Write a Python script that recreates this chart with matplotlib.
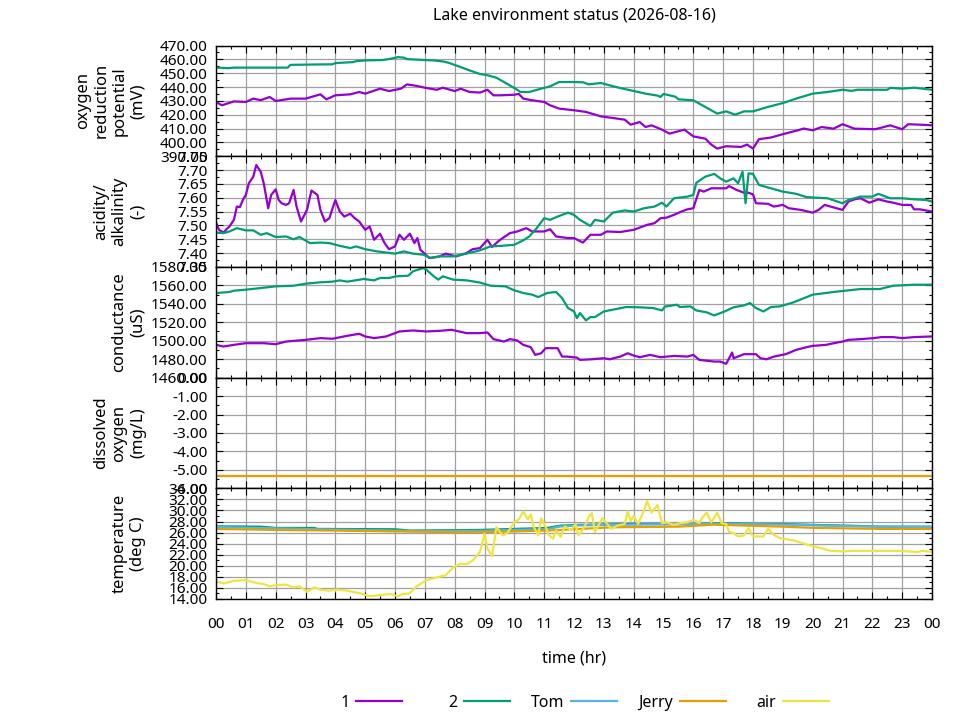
import matplotlib
matplotlib.use('Agg')
import matplotlib.pyplot as plt
from matplotlib.ticker import MultipleLocator, FormatStrFormatter, FixedLocator
import numpy as np

plt.rcParams['font.family'] = ['Noto Sans', 'DejaVu Sans']
plt.rcParams['font.size'] = 11

# readings: (hour of day, value)
orp_1 = [(0, 429.2), (0.2, 426.8), (0.6, 429.6), (1.0, 429.2), (1.25, 431.6), (1.5, 430.5), (1.8, 432.8),
         (2.0, 429.9), (2.5, 431.6), (3.0, 431.6), (3.5, 434.7), (3.7, 431.1), (4.0, 434.0), (4.5, 434.7),
         (4.8, 436.4), (5.0, 435.2), (5.5, 438.8), (5.8, 437.1), (6.2, 438.8), (6.4, 441.9), (6.7, 440.9),
         (7.0, 439.5), (7.4, 438.0), (7.6, 439.5), (8.0, 437.1), (8.2, 438.8), (8.5, 436.4), (8.85, 436.0),
         (9.1, 438.0), (9.3, 434.0), (9.5, 434.0), (10.0, 434.4), (10.15, 435.0), (10.3, 431.6), (10.6, 430.4),
         (11.0, 429.2), (11.2, 426.8), (11.5, 424.4), (12.0, 423.2), (12.4, 422.0), (12.9, 418.8), (13.3, 417.6),
         (13.7, 416.4), (13.9, 412.8), (14.2, 414.7), (14.4, 411.1), (14.6, 412.3), (14.95, 409.2), (15.2, 406.3),
         (15.7, 409.2), (16.0, 404.3), (16.4, 402.7), (16.6, 398.4), (16.8, 395.5), (17.1, 397.2), (17.6, 396.7),
         (17.8, 398.4), (18.0, 395.5), (18.2, 402.3), (18.6, 403.5), (19.0, 405.9), (19.5, 408.7), (19.7, 410.0),
         (20.0, 408.7), (20.3, 411.1), (20.7, 409.9), (21.0, 413.1), (21.4, 409.9), (22.1, 409.5), (22.6, 412.3),
         (23.0, 409.5), (23.2, 413.1), (23.6, 412.8), (24.0, 412.3)]
orp_2 = [(0, 454.1), (0.4, 453.6), (0.6, 454.0), (1.2, 454.0), (2.4, 454.0), (2.5, 456.0), (3.4, 456.3),
         (3.9, 456.4), (4.0, 457.3), (4.6, 458.0), (4.7, 458.7), (5.0, 459.2), (5.6, 459.5), (5.9, 460.6),
         (6.1, 461.6), (6.3, 461.2), (6.4, 460.2), (6.8, 459.7), (7.3, 459.2), (7.6, 458.5), (7.8, 457.5),
         (8.2, 454.4), (8.5, 452.0), (8.85, 449.4), (9.1, 448.5), (9.4, 446.7), (9.75, 442.4), (10.1, 438.0),
         (10.2, 436.4), (10.5, 436.4), (10.9, 438.8), (11.2, 440.5), (11.5, 443.6), (12.0, 443.6), (12.3, 443.4),
         (12.5, 441.9), (12.9, 442.9), (13.2, 441.2), (13.5, 439.5), (13.9, 437.6), (14.4, 435.2), (14.8, 433.8),
         (14.9, 432.8), (15.0, 435.0), (15.4, 433.0), (15.5, 431.1), (16.0, 430.4), (16.4, 425.6), (16.8, 420.8),
         (17.1, 422.4), (17.4, 420.0), (17.7, 422.4), (18.0, 422.4), (18.5, 425.6), (19.0, 428.4), (19.5, 432.0),
         (20.0, 435.2), (20.5, 436.4), (21.0, 438.0), (21.3, 437.2), (21.5, 438.0), (22.5, 438.0), (22.6, 439.4),
         (23.0, 438.8), (23.4, 439.5), (24.0, 438.0)]

ph_1 = [(0, 7.510), (0.1, 7.484), (0.25, 7.474), (0.35, 7.486), (0.45, 7.496), (0.6, 7.520), (0.7, 7.568),
        (0.8, 7.566), (0.9, 7.592), (1.0, 7.610), (1.1, 7.652), (1.25, 7.676), (1.35, 7.718), (1.5, 7.694),
        (1.6, 7.652), (1.75, 7.562), (1.85, 7.610), (2.0, 7.630), (2.1, 7.592), (2.2, 7.580), (2.35, 7.574),
        (2.45, 7.580), (2.6, 7.628), (2.7, 7.568), (2.85, 7.514), (3.05, 7.556), (3.2, 7.626), (3.4, 7.610),
        (3.5, 7.556), (3.65, 7.514), (3.8, 7.526), (4.0, 7.592), (4.15, 7.550), (4.3, 7.532), (4.5, 7.542),
        (4.65, 7.526), (4.8, 7.514), (5.0, 7.484), (5.15, 7.496), (5.3, 7.448), (5.5, 7.470), (5.65, 7.436),
        (5.8, 7.414), (6.0, 7.424), (6.15, 7.466), (6.3, 7.448), (6.5, 7.470), (6.65, 7.436), (6.75, 7.454),
        (6.85, 7.412), (7.15, 7.382), (7.5, 7.388), (7.7, 7.398), (8.05, 7.388), (8.4, 7.400), (8.6, 7.414),
        (8.85, 7.418), (9.1, 7.448), (9.25, 7.422), (9.5, 7.446), (9.85, 7.472), (10.1, 7.478), (10.4, 7.490),
        (10.6, 7.478), (11.0, 7.478), (11.2, 7.486), (11.4, 7.460), (11.8, 7.454), (12.0, 7.454), (12.3, 7.438),
        (12.55, 7.466), (12.9, 7.466), (13.1, 7.478), (13.55, 7.476), (14.0, 7.484), (14.45, 7.502), (14.7, 7.508),
        (14.9, 7.526), (15.1, 7.528), (15.35, 7.538), (15.6, 7.550), (15.8, 7.558), (16.0, 7.562), (16.2, 7.628),
        (16.35, 7.622), (16.6, 7.634), (16.9, 7.634), (17.1, 7.634), (17.2, 7.642), (17.45, 7.628), (17.7, 7.618),
        (17.85, 7.618), (18.0, 7.612), (18.1, 7.580), (18.5, 7.578), (18.7, 7.568), (19.0, 7.574), (19.2, 7.562),
        (19.6, 7.556), (20.0, 7.546), (20.2, 7.556), (20.4, 7.574), (20.6, 7.568), (21.0, 7.556), (21.2, 7.586),
        (21.4, 7.594), (21.6, 7.598), (21.9, 7.582), (22.2, 7.594), (22.5, 7.586), (22.7, 7.582), (23.0, 7.574),
        (23.3, 7.574), (23.4, 7.558), (23.6, 7.558), (24.0, 7.550)]
ph_2 = [(0, 7.474), (0.25, 7.472), (0.45, 7.478), (0.7, 7.490), (1.0, 7.482), (1.25, 7.482), (1.5, 7.466),
        (1.7, 7.472), (2.0, 7.458), (2.35, 7.460), (2.6, 7.450), (2.8, 7.458), (3.15, 7.436), (3.5, 7.438),
        (3.8, 7.436), (4.15, 7.426), (4.5, 7.418), (4.7, 7.424), (5.0, 7.414), (5.4, 7.406), (5.7, 7.402),
        (6.0, 7.398), (6.3, 7.406), (6.6, 7.398), (6.95, 7.394), (7.2, 7.382), (7.5, 7.388), (7.95, 7.388),
        (8.4, 7.398), (8.85, 7.410), (9.2, 7.424), (9.55, 7.426), (10.0, 7.430), (10.3, 7.446), (10.5, 7.460),
        (10.75, 7.490), (11.0, 7.526), (11.2, 7.520), (11.45, 7.532), (11.8, 7.546), (12.0, 7.538), (12.2, 7.520),
        (12.55, 7.498), (12.7, 7.520), (13.0, 7.514), (13.3, 7.546), (13.7, 7.554), (14.0, 7.550), (14.35, 7.562),
        (14.7, 7.568), (14.95, 7.582), (15.1, 7.568), (15.35, 7.598), (15.8, 7.604), (16.0, 7.610), (16.1, 7.654),
        (16.4, 7.676), (16.7, 7.686), (16.9, 7.670), (17.1, 7.658), (17.35, 7.670), (17.5, 7.652), (17.65, 7.694),
        (17.75, 7.580), (17.85, 7.688), (18.0, 7.686), (18.2, 7.646), (18.6, 7.634), (19.0, 7.622), (19.45, 7.614),
        (19.8, 7.602), (20.5, 7.598), (21.0, 7.580), (21.2, 7.592), (21.6, 7.604), (22.0, 7.604), (22.2, 7.614),
        (22.6, 7.598), (23.0, 7.598), (23.4, 7.594), (23.8, 7.592), (24.0, 7.586)]

cond_1 = [(0, 1495.5), (0.25, 1493.7), (0.6, 1495.5), (1.0, 1497.3), (1.6, 1497.3), (2.0, 1496.2), (2.35, 1499.1),
          (3.0, 1500.9), (3.5, 1502.8), (3.9, 1502.1), (4.4, 1505.3), (4.8, 1507.5), (5.0, 1504.6), (5.3, 1502.8),
          (5.7, 1504.6), (6.15, 1510.0), (6.6, 1511.1), (7.05, 1510.0), (7.5, 1510.7), (7.9, 1511.8), (8.4, 1508.2),
          (8.85, 1508.2), (9.1, 1508.9), (9.3, 1501.7), (9.65, 1499.1), (9.85, 1501.7), (10.1, 1500.2), (10.3, 1495.5),
          (10.55, 1493.0), (10.7, 1484.6), (10.9, 1486.4), (11.05, 1491.9), (11.45, 1491.9), (11.6, 1482.8),
          (11.75, 1482.8), (12.1, 1481.7), (12.2, 1479.2), (12.6, 1479.9), (13.0, 1481.0), (13.2, 1479.9),
          (13.55, 1482.8), (13.8, 1486.4), (14.0, 1483.9), (14.2, 1482.1), (14.55, 1484.6), (14.9, 1482.1),
          (15.35, 1483.5), (15.8, 1482.8), (16.0, 1484.6), (16.2, 1479.2), (16.7, 1477.4), (16.9, 1477.4),
          (17.1, 1474.9), (17.3, 1487.2), (17.35, 1481.0), (17.7, 1485.4), (18.1, 1485.4), (18.25, 1481.0),
          (18.45, 1479.9), (18.7, 1482.8), (19.1, 1485.4), (19.45, 1490.1), (19.8, 1493.0), (20.0, 1494.4),
          (20.45, 1495.5), (20.6, 1496.6), (21.0, 1499.1), (21.2, 1500.9), (21.6, 1501.7), (22.05, 1502.8),
          (22.3, 1503.9), (22.7, 1503.9), (23.0, 1502.8), (23.4, 1503.9), (24.0, 1504.6)]
cond_2 = [(0, 1551.7), (0.45, 1552.8), (0.6, 1554.2), (1.0, 1555.3), (1.5, 1557.1), (2.0, 1558.9), (2.6, 1559.6),
          (3.0, 1561.8), (3.5, 1563.3), (3.9, 1564.0), (4.15, 1565.4), (4.4, 1564.0), (4.95, 1566.9), (5.3, 1565.4),
          (5.5, 1568.0), (5.8, 1568.0), (6.05, 1569.8), (6.45, 1570.5), (6.6, 1575.2), (6.95, 1578.8), (7.05, 1577.0),
          (7.3, 1569.8), (7.45, 1566.2), (7.6, 1569.8), (7.95, 1566.2), (8.4, 1565.4), (8.85, 1563.0), (9.2, 1559.6),
          (9.7, 1558.9), (10.0, 1554.6), (10.3, 1551.7), (10.6, 1549.9), (10.8, 1547.3), (11.1, 1551.7),
          (11.4, 1552.8), (11.6, 1546.2), (11.8, 1535.4), (12.0, 1531.7), (12.1, 1524.5), (12.2, 1530.0),
          (12.4, 1522.0), (12.55, 1525.6), (12.7, 1525.6), (13.0, 1531.7), (13.3, 1533.6), (13.75, 1536.5),
          (14.2, 1536.2), (14.65, 1535.4), (14.95, 1532.8), (15.05, 1537.0), (15.45, 1539.0), (15.55, 1536.5),
          (15.9, 1537.2), (16.1, 1532.8), (16.45, 1530.7), (16.7, 1527.4), (17.05, 1531.7), (17.35, 1536.2),
          (17.7, 1538.3), (17.9, 1540.8), (18.1, 1535.4), (18.35, 1531.7), (18.6, 1536.5), (18.9, 1537.2),
          (19.35, 1541.5), (19.8, 1547.3), (20.0, 1549.9), (20.7, 1552.8), (21.1, 1554.2), (21.6, 1556.0),
          (22.25, 1556.0), (22.7, 1559.6), (23.4, 1560.7), (24.0, 1560.7)]

do_tom = [(0, 0.0), (6, 0.0), (12, 0.0), (18, 0.0), (24, 0.0)]
do_jerry = [(0, -5.36), (6, -5.36), (12, -5.36), (18, -5.36), (24, -5.36)]

temp_2 = [(0, 27.13), (1.5, 27.07), (2.0, 26.84), (3.3, 26.84), (3.4, 26.66), (6.0, 26.6), (6.5, 26.36),
          (8.85, 26.48), (10.0, 26.66), (11.1, 26.84), (11.55, 27.25), (12.2, 27.4), (14.0, 27.55), (16.0, 27.55),
          (17.0, 27.7), (18.1, 27.55), (19.0, 27.55), (20.1, 27.37), (21.2, 27.25), (22.3, 27.07), (24.0, 27.07)]
temp_tom = [(0, 27.0), (3.4, 26.6), (6.5, 26.3), (8.85, 26.3), (10.0, 26.5), (11.1, 26.6), (11.55, 27.1),
            (12.2, 27.3), (14.0, 27.45), (17.0, 27.6), (19.0, 27.45), (21.2, 27.15), (24.0, 27.0)]
temp_jerry = [(0, 26.66), (2.0, 26.48), (4.0, 26.36), (6.5, 26.18), (8.0, 26.06), (8.85, 26.06), (11.1, 26.36),
              (13.3, 26.96), (15.5, 27.07), (16.7, 27.43), (17.8, 27.25), (19.0, 27.07), (20.1, 26.84),
              (22.3, 26.66), (24.0, 26.66)]
temp_air = [(0, 17.22), (0.25, 16.8), (0.6, 17.28), (1.0, 17.4), (1.35, 16.9), (1.6, 16.7), (1.8, 16.3),
            (2.0, 16.5), (2.35, 16.6), (2.6, 16.1), (2.8, 16.3), (3.05, 15.3), (3.3, 16.1), (3.5, 15.7),
            (3.8, 15.5), (4.05, 15.7), (4.4, 15.5), (4.85, 15.0), (5.15, 14.5), (5.5, 14.7), (5.85, 14.9),
            (6.1, 14.5), (6.25, 14.9), (6.5, 15.0), (6.7, 16.2), (7.05, 17.4), (7.4, 17.9), (7.7, 18.3),
            (7.95, 19.7), (8.2, 20.4), (8.4, 20.3), (8.6, 20.9), (8.85, 22.5), (9.0, 25.8), (9.1, 23.1),
            (9.25, 21.7), (9.4, 27.0), (9.6, 25.5), (9.75, 25.8), (10.0, 27.85), (10.15, 28.4), (10.3, 29.8),
            (10.45, 28.4), (10.55, 29.3), (10.65, 27.0), (10.8, 25.5), (10.9, 28.6), (11.05, 27.0), (11.15, 25.6),
            (11.3, 24.9), (11.4, 26.4), (11.55, 25.2), (11.7, 27.1), (11.9, 26.4), (12.05, 27.55), (12.15, 25.5),
            (12.35, 27.0), (12.5, 28.9), (12.6, 29.5), (12.7, 26.1), (12.95, 28.6), (13.1, 27.65), (13.25, 26.66),
            (13.45, 27.25), (13.7, 27.55), (13.8, 29.8), (13.9, 28.1), (14.0, 29.0), (14.15, 27.55), (14.35, 30.1),
            (14.45, 31.7), (14.6, 29.6), (14.8, 31.0), (14.95, 27.7), (15.1, 27.85), (15.35, 27.4), (15.55, 27.7),
            (15.8, 27.85), (16.0, 28.3), (16.2, 27.7), (16.3, 28.7), (16.45, 29.6), (16.6, 27.85), (16.8, 29.6),
            (16.95, 27.7), (17.1, 27.55), (17.2, 26.1), (17.35, 25.9), (17.5, 25.3), (17.7, 25.5), (17.85, 26.8),
            (18.0, 25.3), (18.35, 25.3), (18.5, 26.7), (18.7, 25.6), (18.9, 25.0), (19.35, 24.6), (19.9, 23.7),
            (20.2, 23.3), (20.6, 22.7), (21.0, 22.6), (21.35, 22.7), (21.8, 22.7), (22.25, 22.7), (22.9, 22.7),
            (23.5, 22.5), (23.7, 22.7), (24.0, 22.5)]

hour_ticks = list(range(25))
hour_labels = ['00', '01', '02', '03', '04', '05', '06', '07', '08', '09', '10', '11', '12',
               '13', '14', '15', '16', '17', '18', '19', '20', '21', '22', '23', '00']

colors = {'1': '#9400d3', '2': '#009e73', 'Tom': '#56b4e9', 'Jerry': '#e69f00', 'air': '#f0e442'}

# panel: ylabel, limits, major step, minor step, series
panels = [
    ('oxygen\nreduction\npotential\n(mV)', (390, 470), 10, 5, [('1', orp_1), ('2', orp_2)]),
    ('acidity/\nalkalinity\n(-)', (7.35, 7.75), 0.05, 0.025, [('1', ph_1), ('2', ph_2)]),
    ('conductance\n(uS)', (1460, 1580), 20, 10, [('1', cond_1), ('2', cond_2)]),
    ('dissolved\noxygen\n(mg/L)', (-6, 0), 1, 0.5, [('Tom', do_tom), ('Jerry', do_jerry)]),
    ('temperature\n(deg C)', (14, 34), 2, 1, [('2', temp_2), ('Tom', temp_tom), ('Jerry', temp_jerry),
                                           ('air', temp_air)]),
]

fig = plt.figure(figsize=(9.6, 7.2), dpi=100)
axes = fig.subplots(5, 1, sharex=True)
fig.subplots_adjust(left=216 / 960, right=932 / 960, top=1 - 45.5 / 720, bottom=1 - 599 / 720, hspace=0)

handles = {}
for ax, (label, lim, major, minor, series) in zip(axes, panels):
    for name, pts in series:
        arr = np.array(pts)
        line, = ax.plot(arr[:, 0], arr[:, 1], color=colors[name], lw=1.6, solid_joinstyle='round')
        handles[name] = line
    ax.set_xlim(0, 24)
    ax.set_ylim(*lim)
    ax.yaxis.set_major_locator(MultipleLocator(major))
    ax.yaxis.set_minor_locator(MultipleLocator(minor))
    ax.yaxis.set_major_formatter(FormatStrFormatter('%.2f'))
    ax.xaxis.set_major_locator(FixedLocator(hour_ticks))
    ax.xaxis.set_minor_locator(MultipleLocator(0.5))
    ax.grid(True, which='major', color='#a0a0a0', lw=0.9)
    ax.set_axisbelow(True)
    ax.tick_params(which='both', direction='in', top=True, right=True, width=0.8, color='black')
    ax.tick_params(which='major', length=5, labelsize=11)
    ax.tick_params(which='minor', length=2.5)
    ax.tick_params(axis='y', pad=6)
    for s in ax.spines.values():
        s.set_linewidth(1.0)
    ax.set_ylabel(label, fontsize=12, linespacing=1.2)
    ax.yaxis.set_label_coords(-(216 - 146) / 716, 0.5)

axes[-1].set_xticks(hour_ticks)
axes[-1].set_xticklabels(hour_labels)
axes[-1].tick_params(axis='x', pad=13)
axes[-1].set_xlabel('time (hr)', fontsize=11.5, labelpad=13)

fig.text(574 / 960, 1 - 15 / 720, 'Lake environment status (2026-08-16)', ha='center', va='center', fontsize=11.5)

legend_right = {'1': 402, '2': 510, 'Tom': 617, 'Jerry': 726, 'air': 829}
for name in ['1', '2', 'Tom', 'Jerry', 'air']:
    fig.legend(handles=[handles[name]], labels=[name], loc='center right',
               bbox_to_anchor=(legend_right[name] / 960, 1 - 703 / 720), markerfirst=False,
               frameon=False, handlelength=2.9, handletextpad=0.4, borderpad=0, borderaxespad=0,
               fontsize=11.5)

fig.savefig('out.png', dpi=100)
